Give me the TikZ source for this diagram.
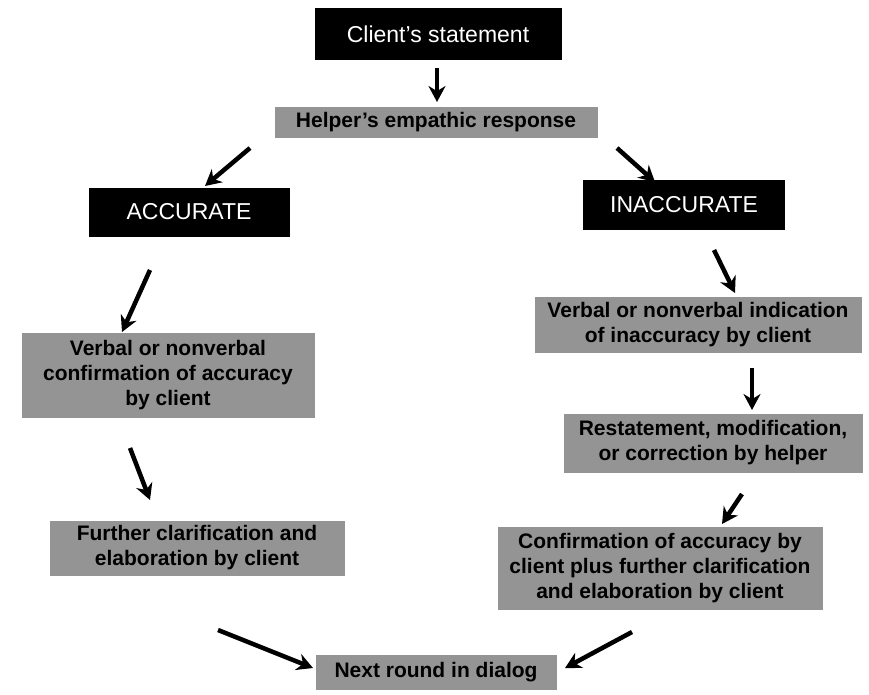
\documentclass[tikz,border=0pt]{standalone}
\usepackage{fontspec}
\setmainfont{Liberation Sans}
\usepackage{xcolor}
\usetikzlibrary{arrows.meta, positioning, calc}

\begin{document}
\begin{tikzpicture}[x=1pt, y=-1pt, >=Stealth,
    blackbox/.style={fill=black, text=white, inner sep=0pt, align=center,
        font=\fontsize{23}{27}\selectfont},
    greybox/.style={fill=black!42, text=black, inner sep=0pt, align=center,
        font=\bfseries\fontsize{21}{25}\selectfont},
    arr/.style={->, line width=4.5pt, -{Stealth[length=16pt, width=17pt]}}]
        \useasboundingbox (0,0) rectangle (869,694);
        % Top of the chart
        \node[blackbox, minimum width=247pt, minimum height=52pt] (client) at (438,34) {Client's statement};
        \node[greybox, minimum width=323pt, minimum height=31pt] (help) at (436,122) {Helper's empathic response};
        % The two outcomes
        \node[blackbox, minimum width=201pt, minimum height=49pt] (acc) at (189,212) {ACCURATE};
        \node[blackbox, minimum width=202pt, minimum height=50pt] (inacc) at (684,205) {INACCURATE};
        % Left branch
        \node[greybox, minimum width=293pt, minimum height=85pt] (vconf) at (168,375) {Verbal or nonverbal\\confirmation of accuracy\\by client};
        \node[greybox, minimum width=295pt, minimum height=55pt] (further) at (197,548) {Further clarification and\\elaboration by client};
        % Right branch
        \node[greybox, minimum width=327pt, minimum height=56pt] (vind) at (698,325) {Verbal or nonverbal indication\\of inaccuracy by client};
        \node[greybox, minimum width=299pt, minimum height=59pt] (restate) at (713,443) {Restatement, modification,\\or correction by helper};
        \node[greybox, minimum width=325pt, minimum height=83pt] (confirm) at (660,568) {Confirmation of accuracy by\\client plus further clarification\\and elaboration by client};
        % Bottom
        \node[greybox, minimum width=241pt, minimum height=35pt] (next) at (436,672) {Next round in dialog};
        % Arrow ends
        \coordinate (a1) at (437,68);   \coordinate (b1) at (437,102);
        \coordinate (a2) at (250,148);  \coordinate (b2) at (205,186);
        \coordinate (a3) at (617,148);  \coordinate (b3) at (655,182);
        \coordinate (a4) at (150,270);  \coordinate (b4) at (122,332);
        \coordinate (a5) at (714,250);  \coordinate (b5) at (735,293);
        \coordinate (a6) at (752,368);  \coordinate (b6) at (752,410);
        \coordinate (a7) at (130,448);  \coordinate (b7) at (150,500);
        \coordinate (a8) at (742,494);  \coordinate (b8) at (722,524);
        \coordinate (a9) at (218,630);  \coordinate (b9) at (313,668);
        \coordinate (a10) at (632,632); \coordinate (b10) at (565,668);
        \draw[arr] (a1) -- (b1);
        \draw[arr] (a2) -- (b2);
        \draw[arr] (a3) -- (b3);
        \draw[arr] (a4) -- (b4);
        \draw[arr] (a5) -- (b5);
        \draw[arr] (a6) -- (b6);
        \draw[arr] (a7) -- (b7);
        \draw[arr] (a8) -- (b8);
        \draw[arr] (a9) -- (b9);
        \draw[arr] (a10) -- (b10);
    \end{tikzpicture}
\end{document}
